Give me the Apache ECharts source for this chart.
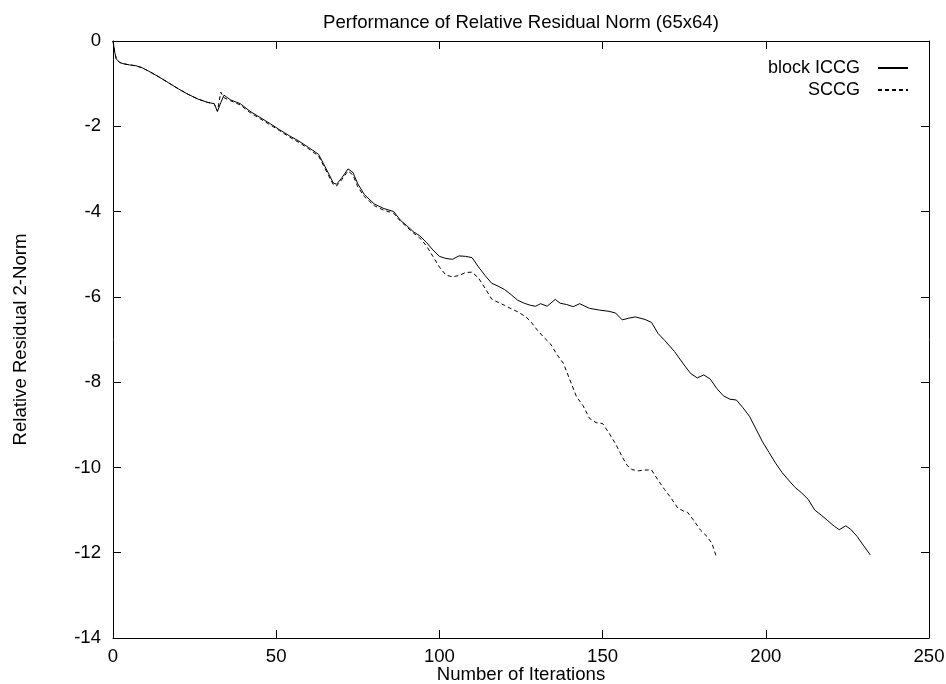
<!DOCTYPE html>
<html>
<head>
<meta charset="utf-8">
<script src="https://cdn.jsdelivr.net/npm/echarts@6/dist/echarts.min.js"></script>
<style>
    html, body { margin: 0; padding: 0; background: #fff; }
    #chart { width: 946px; height: 684px; }
</style>
</head>
<body>
<div id="chart"></div>
<script>
// block ICCG (solid)
var iccgIter = [0, 0.5, 1, 2, 3, 5, 7, 9, 11, 14, 17, 20, 23, 26, 29, 31, 32, 33, 34, 36, 39, 42, 45, 48, 51, 54, 57, 60, 63,
    64.5, 66, 67.5, 68.5, 70, 72, 73.5, 75, 77, 80, 83, 86, 88, 90, 92, 94, 96, 98, 100, 102, 104, 106, 108, 110, 112,
    114, 116, 118, 120, 122, 124, 126, 128, 129.5, 131, 133, 135.5, 137, 139, 141, 143, 146, 149, 152, 154, 156, 158,
    160, 163, 165, 167, 169, 172, 175, 177, 179, 181, 183, 185, 187, 189, 191, 193, 195, 197, 199, 201, 203, 205, 207,
    209, 211, 213, 215, 217, 219, 221, 222.5, 224.5, 226, 228, 230, 232];
var iccgVal = [0, -0.25, -0.42, -0.5, -0.53, -0.56, -0.58, -0.63, -0.71, -0.84, -0.98, -1.12, -1.25, -1.36, -1.44, -1.47,
    -1.65, -1.45, -1.27, -1.38, -1.47, -1.65, -1.79, -1.93, -2.08, -2.22, -2.35, -2.5, -2.66,
    -2.88, -3.1, -3.33, -3.36, -3.22, -3.0, -3.08, -3.35, -3.6, -3.82, -3.93, -4.0, -4.2, -4.33, -4.47, -4.57, -4.72,
    -4.9, -5.05, -5.1, -5.12, -5.04, -5.05, -5.08, -5.3,
    -5.5, -5.68, -5.75, -5.83, -5.95, -6.08, -6.15, -6.2, -6.22, -6.16, -6.22, -6.06, -6.15, -6.18, -6.23, -6.16, -6.27,
    -6.31, -6.34, -6.38, -6.54, -6.5,
    -6.47, -6.53, -6.6, -6.86, -7.02, -7.28, -7.6, -7.8, -7.9, -7.83, -7.93, -8.15, -8.32, -8.4, -8.42, -8.6, -8.8, -9.1,
    -9.4, -9.65, -9.9, -10.12, -10.3,
    -10.47, -10.6, -10.75, -11.0, -11.12, -11.25, -11.38, -11.46, -11.37, -11.45, -11.62, -11.84, -12.05];

// SCCG (dashed)
var sccgIter = [0, 0.5, 1, 2, 3, 5, 7, 9, 11, 14, 17, 20, 23, 26, 29, 31, 32, 33, 34, 36, 39, 42, 45, 48, 51, 54, 57, 60, 63,
    64.5, 66, 67.5, 68.5, 70, 72, 73.5, 75, 77, 80, 83, 86, 88, 90, 92, 94, 96, 98, 100, 102, 104, 106, 108, 110, 112,
    114, 116, 118, 120, 122, 124, 126.5, 128, 130, 132, 134, 136, 138, 140, 142, 144, 146, 148, 150, 152, 154, 156,
    157.5, 159, 161, 163, 165, 167, 169, 171, 173, 175, 176, 178, 180, 182, 183.5, 185];
var sccgVal = [0, -0.25, -0.42, -0.5, -0.53, -0.56, -0.58, -0.63, -0.71, -0.84, -0.98, -1.12, -1.25, -1.36, -1.44, -1.47,
    -1.65, -1.2, -1.33, -1.4, -1.5, -1.68, -1.82, -1.96, -2.1, -2.25, -2.38, -2.53, -2.7,
    -2.92, -3.15, -3.37, -3.4, -3.26, -3.05, -3.14, -3.42, -3.65, -3.86, -3.97, -4.04, -4.22, -4.36, -4.5, -4.62, -4.8,
    -5.05, -5.3, -5.49, -5.53, -5.5, -5.43, -5.42, -5.56,
    -5.8, -6.05, -6.13, -6.2, -6.28, -6.35, -6.47, -6.58, -6.78, -6.95, -7.1, -7.35, -7.56, -7.95, -8.34, -8.55, -8.85,
    -8.95, -8.97, -9.2, -9.45, -9.75,
    -9.95, -10.05, -10.08, -10.06, -10.06, -10.3, -10.52, -10.72, -10.95, -11.03, -11.05, -11.25, -11.47, -11.62, -11.78, -12.13];

var xTicks = [0, 50, 100, 150, 200, 250];
var yTicks = [0, -2, -4, -6, -8, -10, -12, -14];

var font = 'Liberation Sans, Arial, sans-serif';
var fsize = 18.6;

function pairs(xs, ys) {
    var out = [];
    for (var i = 0; i < xs.length; i++) {
        out.push([xs[i], ys[i]]);
    }
    return out;
}

function frameAxis(pos, show, lo, hi, step, margin) {
    return {
        type: 'value',
        position: pos,
        min: lo,
        max: hi,
        interval: step,
        axisLine: {show: true, onZero: false, lineStyle: {color: '#000', width: 1}},
        axisTick: {show: true, inside: true, length: 8, lineStyle: {color: '#000', width: 1}},
        axisLabel: {show: show, color: '#000', fontSize: fsize, fontFamily: font, margin: margin || 10},
        splitLine: {show: false}
    };
}

function legendRow(name, top) {
    return {
        data: [name],
        right: 32,
        top: top,
        align: 'right',
        itemWidth: 30,
        itemHeight: 10,
        itemStyle: {opacity: 0},
        textStyle: {color: '#000', fontSize: 18, fontFamily: font, padding: [0, 13, 0, 0]}
    };
}

var my_chart = echarts.init(document.getElementById('chart'));

var xBottom = frameAxis('bottom', true, xTicks[0], xTicks[xTicks.length - 1], xTicks[1] - xTicks[0], 9);
xBottom.name = 'Number of Iterations';
xBottom.nameLocation = 'middle';
xBottom.nameGap = 27;
xBottom.nameMoveOverlap = false;
xBottom.nameTextStyle = {color: '#000', fontSize: fsize, fontFamily: font};

var yLeft = frameAxis('left', true, yTicks[yTicks.length - 1], yTicks[0], yTicks[0] - yTicks[1], 12);
yLeft.name = 'Relative Residual 2-Norm';
yLeft.nameLocation = 'middle';
yLeft.nameGap = 83;
yLeft.nameMoveOverlap = false;
yLeft.nameTextStyle = {color: '#000', fontSize: fsize, fontFamily: font};

var option = {
    animation: false,
    backgroundColor: '#fff',
    title: {
        text: 'Performance of Relative Residual Norm (65x64)',
        left: 516,
        textAlign: 'center',
        top: 8,
        textStyle: {color: '#000', fontSize: fsize, fontWeight: 'normal', fontFamily: font}
    },
    grid: {left: 113, top: 41, right: 17, bottom: 46, outerBoundsMode: 'none'},
    legend: [legendRow('block ICCG', 54), legendRow('SCCG', 76)],
    xAxis: [xBottom, frameAxis('top', false, 0, 250, 50)],
    yAxis: [yLeft, frameAxis('right', false, -14, 0, 2)],
    series: [
        {
            name: 'block ICCG',
            type: 'line',
            symbol: 'none',
            data: pairs(iccgIter, iccgVal),
            lineStyle: {color: '#000', width: 1, type: 'solid'},
            itemStyle: {color: '#000'}
        },
        {
            name: 'SCCG',
            type: 'line',
            symbol: 'none',
            data: pairs(sccgIter, sccgVal),
            lineStyle: {color: '#000', width: 1, type: [4, 3]},
            itemStyle: {color: '#000'}
        }
    ]
};

my_chart.setOption(option, true);
</script>
</body>
</html>
